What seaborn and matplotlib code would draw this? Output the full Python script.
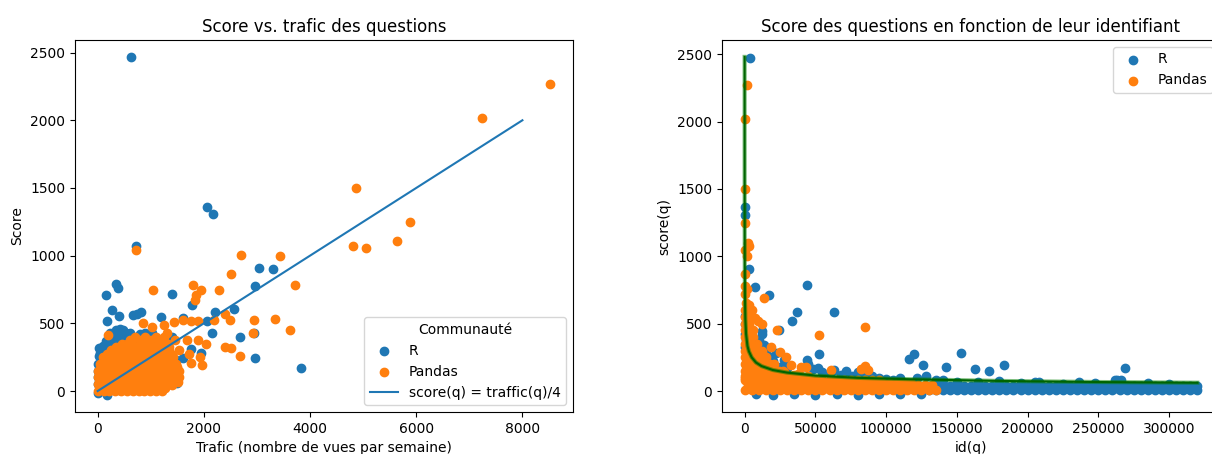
import numpy as np
import pandas as pd
import matplotlib
matplotlib.use('Agg')
import matplotlib.pyplot as plt
import seaborn as sns

# --- Données (trafic, score) ---
r_trafic_score = [
    (635, 2468), (2065, 1363), (2173, 1306), (729, 1071), (3032, 911), (3307, 904),
    (2967, 774), (339, 793), (390, 764), (166, 712), (1393, 720), (1769, 634),
    (272, 600), (657, 560), (744, 572), (816, 585), (396, 555), (180, 515),
    (1199, 550), (1610, 543), (2202, 587), (2563, 604), (2065, 518), (2151, 425),
    (2679, 400), (2946, 425), (1942, 282), (2967, 241), (3827, 172),
    (241, 430), (427, 455), (612, 430), (527, 425), (888, 425), (1032, 430),
    (922, 405), (1393, 400), (87, 306), (25, 318), (365, 356), (550, 368),
    (274, 351), (1107, 330), (130, 280), (200, 330), (300, 300), (450, 320),
    (700, 350), (800, 300), (0, 107), (0, 200), (0, 50), (0, -17), (180, -30),
    (427, 7), (1045, 20), (1354, 157), (1478, 231), (1500, 60), (1250, 90),
    (1610, 241), (1754, 314), (60, 250), (120, 180), (700, 200), (900, 250),
    (1000, 150), (400, 150), (600, 100), (300, 50),
    (50, 280), (100, 330), (150, 370), (250, 400), (320, 400), (380, 420),
    (450, 380), (500, 400), (600, 380), (650, 400), (750, 400), (800, 420),
    (350, 450), (480, 450), (20, 260), (40, 200), (0, 150), (160, 300),
]

pandas_trafic_score = [
    (8527, 2267), (7242, 2016), (4873, 1503), (5884, 1248), (5638, 1108), (4801, 1071),
    (5054, 1056), (722, 1044), (2700, 1002), (3437, 995), (2513, 862), (3711, 781),
    (1805, 786), (1040, 749), (1848, 707), (1942, 744), (2289, 744), (1827, 670),
    (188, 413), (2404, 572), (2188, 523), (2491, 523), (2953, 528), (3343, 530),
    (3617, 449), (2924, 425), (2404, 327), (2520, 319), (2679, 258), (859, 506),
    (1032, 474), (1249, 486), (1430, 511), (1610, 523), (1754, 518), (1899, 518),
    (1307, 425), (1466, 376), (1682, 376), (1899, 376), (2043, 351), (1538, 302),
    (1718, 277), (1935, 253), (1754, 204), (1971, 192), (1430, 179), (1393, 44), (1509, 69),
    # nuage dense
    (0, 0), (110, 0), (220, 0), (330, 0), (440, 0), (550, 0), (660, 0), (770, 0),
    (880, 0), (990, 0), (1100, 0), (1210, 0),
    (55, 25), (165, 25), (275, 25), (385, 25), (495, 25), (605, 25), (715, 25),
    (825, 25), (935, 25), (1045, 25), (1155, 25), (1265, 25),
    (0, 50), (110, 50), (220, 50), (330, 50), (440, 50), (550, 50), (660, 50), (770, 50),
    (880, 50), (990, 50), (1100, 50), (1210, 50), (1320, 50),
    (55, 75), (165, 75), (275, 75), (385, 75), (495, 75), (605, 75), (715, 75),
    (825, 75), (935, 75), (1045, 75), (1155, 75), (1265, 75), (1375, 75),
    (0, 100), (110, 100), (220, 100), (330, 100), (440, 100), (550, 100), (660, 100),
    (770, 100), (880, 100), (990, 100), (1100, 100), (1210, 100), (1320, 100), (1430, 100), (1540, 100),
    (55, 125), (165, 125), (275, 125), (385, 125), (495, 125), (605, 125), (715, 125),
    (825, 125), (935, 125), (1045, 125), (1155, 125), (1265, 125), (1375, 125), (1485, 125),
    (0, 150), (110, 150), (220, 150), (330, 150), (440, 150), (550, 150), (660, 150),
    (770, 150), (880, 150), (990, 150), (1100, 150), (1210, 150), (1320, 150), (1430, 150), (1540, 150),
    (55, 175), (165, 175), (275, 175), (385, 175), (495, 175), (605, 175), (715, 175),
    (825, 175), (935, 175), (1045, 175), (1155, 175), (1265, 175), (1375, 175), (1485, 175),
    (50, 200), (160, 200), (270, 200), (380, 200), (490, 200), (600, 200), (710, 200),
    (820, 200), (930, 200), (1040, 200), (1150, 200), (1260, 200), (1370, 200), (1480, 200),
    (105, 225), (215, 225), (325, 225), (435, 225), (545, 225), (655, 225), (765, 225),
    (875, 225), (985, 225), (1095, 225), (1205, 225), (1315, 225), (1425, 225),
    (100, 250), (210, 250), (320, 250), (430, 250), (540, 250), (650, 250), (760, 250),
    (870, 250), (980, 250), (1090, 250), (1200, 250), (1310, 250), (1420, 250),
    (175, 275), (285, 275), (395, 275), (505, 275), (615, 275), (725, 275), (835, 275),
    (945, 275), (1055, 275), (1165, 275), (1275, 275), (1385, 275),
    (250, 300), (360, 300), (470, 300), (580, 300), (690, 300), (800, 300), (910, 300),
    (1020, 300), (1130, 300), (1240, 300), (1350, 300),
    (350, 325), (460, 325), (570, 325), (680, 325), (790, 325), (900, 325), (1010, 325),
    (1120, 325), (1230, 325), (1340, 325),
    (450, 350), (560, 350), (670, 350), (780, 350), (890, 350), (1000, 350), (1110, 350),
    (1220, 350), (1330, 350),
    (600, 375), (800, 375), (1000, 375), (1180, 375),
    (700, 400), (900, 400), (1100, 400), (1250, 400),
]

ligne_trafic = [0, 8000]
ligne_score = [0, 2000]

# --- Données (id, score) ---
r_id_score = [
    (4000, 2470), (0, 1363), (0, 1306), (3000, 908), (7300, 774), (17200, 711),
    (44400, 790), (36900, 587), (33300, 517), (63300, 587), (24000, 450), (12500, 443),
    (52700, 276), (44000, 231), (116500, 235), (119600, 276), (126000, 194), (142500, 182),
    (152700, 283), (163000, 160), (173000, 150), (183000, 190), (269000, 170), (263000, 80),
    (0, 560), (1500, 600), (0, 500), (2000, 480), (0, 420), (1000, 380), (0, 330),
    (10000, 380), (14000, 340), (15000, 300), (18000, 250), (20000, 220), (22000, 280),
    (25000, 180), (28000, 230), (30000, 170), (12000, 420),
    (45000, 200), (48000, 160), (52000, 170), (55000, 140), (60000, 130), (63000, 155),
    (68000, 120), (72000, 150), (76000, 110), (80000, 140), (85000, 105), (90000, 110),
    (95000, 95), (100000, 90), (105000, 85), (110000, 95), (122000, 100), (128000, 110),
    (135000, 85),
    (150000, 70), (165000, 65), (180000, 75), (205000, 70), (208000, 65), (236000, 65),
    (248000, 60), (262000, 80), (266000, 85), (285000, 60), (300000, 55), (140000, 80),
    (195000, 60), (225000, 55),
    (8000, -25), (20000, -30), (35000, -25), (50000, -30), (65000, -25), (80000, -28),
    (95000, -25), (110000, -22), (125000, -25),
    # bande du bas
    (130000, 5), (135000, 5), (140000, 5), (145000, 5), (150000, 5), (155000, 5),
    (160000, 5), (165000, 5), (170000, 5), (175000, 5), (180000, 5), (185000, 5),
    (190000, 5), (195000, 5), (200000, 5), (205000, 5), (210000, 5), (215000, 5),
    (220000, 5), (225000, 5), (230000, 5), (235000, 5), (240000, 5), (245000, 5),
    (250000, 5), (255000, 5), (260000, 5), (265000, 5), (270000, 5), (275000, 5),
    (280000, 5), (285000, 5), (290000, 5), (295000, 5), (300000, 5), (305000, 5),
    (310000, 5), (315000, 5), (320000, 5),
    (132500, 22), (137500, 22), (142500, 22), (147500, 22), (152500, 22), (157500, 22),
    (162500, 22), (167500, 22), (172500, 22), (177500, 22), (182500, 22), (187500, 22),
    (192500, 22), (197500, 22), (202500, 22), (207500, 22), (212500, 22), (217500, 22),
    (222500, 22), (227500, 22), (232500, 22), (237500, 22), (242500, 22), (247500, 22),
    (252500, 22), (257500, 22), (262500, 22), (267500, 22), (272500, 22), (277500, 22),
    (282500, 22), (287500, 22), (292500, 22), (297500, 22), (302500, 22), (307500, 22),
    (312500, 22), (317500, 22),
    (130000, 40), (135000, 40), (140000, 40), (145000, 40), (150000, 40), (155000, 40),
    (160000, 40), (165000, 40), (170000, 40), (175000, 40), (180000, 40), (185000, 40),
    (190000, 40), (195000, 40), (200000, 40), (205000, 40), (210000, 40), (215000, 40),
    (220000, 40), (225000, 40), (230000, 40), (235000, 40), (240000, 40), (245000, 40),
    (250000, 40), (255000, 40), (260000, 40), (265000, 40), (270000, 40), (275000, 40),
    (280000, 40), (285000, 40), (290000, 40), (295000, 40), (300000, 40), (305000, 40),
    (310000, 40), (315000, 40), (320000, 40),
]

pandas_id_score = [
    (1400, 2270), (0, 2020), (0, 1500), (0, 1250), (2500, 1100), (3000, 1080),
    (0, 1050), (1500, 1000), (500, 870), (0, 780), (2000, 760), (500, 720),
    (13500, 690), (22700, 450), (52700, 418), (85300, 475), (9600, 520), (12000, 500),
    (7000, 540), (18900, 330), (24800, 293), (29500, 256), (33000, 194), (40000, 176),
    (43600, 176), (61300, 157), (82600, 162), (87300, 157), (85000, 185), (5000, 600),
    (3000, 640), (1000, 650),
    # colonne près de 0
    (0, 100), (0, 150), (0, 200), (0, 250), (0, 300), (0, 350), (0, 400), (0, 450),
    (0, 500), (0, 550), (0, 600),
    (3000, 100), (3000, 150), (3000, 200), (3000, 250), (3000, 300), (3000, 350),
    (3000, 400), (3000, 450), (3000, 500), (3000, 550),
    (6000, 100), (6000, 150), (6000, 200), (6000, 250), (6000, 300), (6000, 350),
    (6000, 400), (6000, 450),
    (9000, 100), (9000, 150), (9000, 200), (9000, 250), (9000, 300), (9000, 350),
    (12000, 100), (12000, 150), (12000, 200), (12000, 250), (12000, 300),
    (15000, 100), (15000, 150), (15000, 200), (15000, 250),
    (18000, 100), (18000, 150), (18000, 200),
    (21000, 100), (21000, 150), (21000, 200),
    (24000, 100), (24000, 150), (27000, 100), (27000, 150),
    (30000, 110), (35000, 120), (38000, 130),
    # bande du bas
    (0, 5), (5000, 5), (10000, 5), (15000, 5), (20000, 5), (25000, 5), (30000, 5),
    (35000, 5), (40000, 5), (45000, 5), (50000, 5), (55000, 5), (60000, 5), (65000, 5),
    (70000, 5), (75000, 5), (80000, 5), (85000, 5), (90000, 5), (95000, 5), (100000, 5),
    (105000, 5), (110000, 5), (115000, 5), (120000, 5), (125000, 5), (130000, 5), (135000, 5),
    (2500, 25), (7500, 25), (12500, 25), (17500, 25), (22500, 25), (27500, 25), (32500, 25),
    (37500, 25), (42500, 25), (47500, 25), (52500, 25), (57500, 25), (62500, 25), (67500, 25),
    (72500, 25), (77500, 25), (82500, 25), (87500, 25), (92500, 25), (97500, 25), (102500, 25),
    (107500, 25), (112500, 25), (117500, 25), (122500, 25), (127500, 25), (132500, 25),
    (2500, 45), (7500, 45), (12500, 45), (17500, 45), (22500, 45), (27500, 45), (32500, 45),
    (37500, 45), (42500, 45), (47500, 45), (52500, 45), (57500, 45), (62500, 45), (67500, 45),
    (72500, 45), (77500, 45), (82500, 45), (87500, 45), (92500, 45), (97500, 45), (102500, 45),
    (107500, 45), (112500, 45), (117500, 45), (122500, 45), (127500, 45), (132500, 45),
    (2500, 62), (7500, 62), (12500, 62), (17500, 62), (22500, 62), (27500, 62), (32500, 62),
    (37500, 62), (42500, 62), (47500, 62), (52500, 62), (57500, 62), (62500, 62), (67500, 62),
    (72500, 62), (77500, 62), (82500, 62), (87500, 62), (92500, 62), (97500, 62), (102500, 62),
    (107500, 62), (112500, 62), (117500, 62),
    (0, 80), (5000, 80), (10000, 80), (15000, 80), (20000, 80), (25000, 80), (30000, 80),
    (35000, 80), (40000, 80), (45000, 80), (50000, 80), (55000, 80), (60000, 80), (65000, 80),
    (70000, 80), (75000, 80), (80000, 80), (85000, 80), (90000, 80), (95000, 80),
    (0, 115), (5000, 115), (10000, 115), (15000, 115), (20000, 115), (25000, 115),
    (30000, 115), (35000, 115), (40000, 115), (45000, 115),
    (2500, 140), (7500, 140), (12500, 140), (17500, 140), (22500, 140), (27500, 140),
]

courbe_id = [5, 10, 20, 50, 100, 200, 500, 1000, 2000, 3000, 5000, 8000, 12000,
             20000, 30000, 50000, 80000, 120000, 180000, 250000, 320000]
courbe_score = [2480, 1970, 1565, 1150, 915, 725, 535, 425, 335, 295, 250, 212, 185,
                156, 137, 115, 98, 87, 75, 67, 62]

# --- Figure ---
fig = plt.figure(figsize=(12.12, 4.54), dpi=100)
ax1 = fig.add_axes([0.0619, 0.0925, 0.4109, 0.8194])
ax2 = fig.add_axes([0.5957, 0.0925, 0.4109, 0.8194])

pts = dict(s=36, edgecolor='face', linewidth=1.0)

r_t = pd.DataFrame(r_trafic_score, columns=['trafic', 'score'])
p_t = pd.DataFrame(pandas_trafic_score, columns=['trafic', 'score'])
sns.scatterplot(data=r_t, x='trafic', y='score', ax=ax1, color='C0', label='R', **pts)
sns.scatterplot(data=p_t, x='trafic', y='score', ax=ax1, color='C1', label='Pandas', **pts)
sns.lineplot(x=ligne_trafic, y=ligne_score, ax=ax1, color='C0', label='score(q) = traffic(q)/4')
ax1.set_title('Score vs. trafic des questions')
ax1.set_xlabel('Trafic (nombre de vues par semaine)')
ax1.set_ylabel('Score')
ax1.legend(title='Communauté', loc='lower right')

r_i = pd.DataFrame(r_id_score, columns=['id', 'score'])
p_i = pd.DataFrame(pandas_id_score, columns=['id', 'score'])
sns.scatterplot(data=r_i, x='id', y='score', ax=ax2, color='C0', label='R', **pts)
sns.scatterplot(data=p_i, x='id', y='score', ax=ax2, color='C1', label='Pandas', **pts)
ax2.plot(courbe_id, courbe_score, color='green', lw=3, alpha=0.5)
ax2.plot(courbe_id, courbe_score, color='darkgreen', lw=1.5)
ax2.set_title('Score des questions en fonction de leur identifiant')
ax2.set_xlabel('id(q)')
ax2.set_ylabel('score(q)')
ax2.legend(loc='upper right')

fig.savefig('out.png', dpi=100)
